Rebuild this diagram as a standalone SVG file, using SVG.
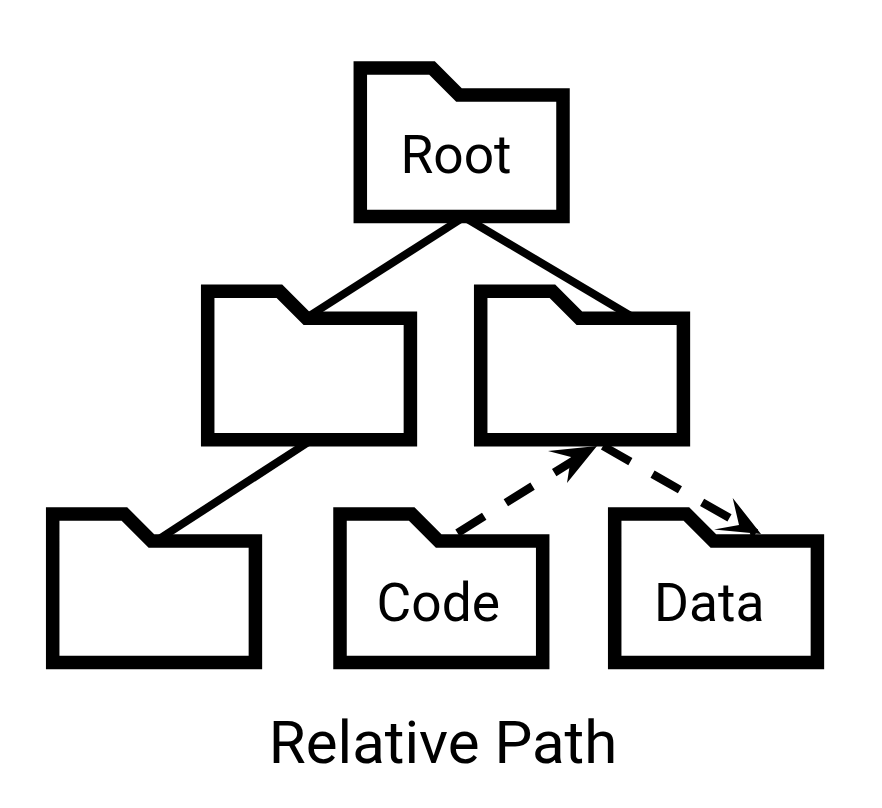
<svg xmlns="http://www.w3.org/2000/svg" width="882" height="808" viewBox="0 0 882 808">
<style>
.folder{fill:#fff;stroke:#000;stroke-width:13.5;stroke-linejoin:miter}
.link{fill:none;stroke:#000;stroke-width:8}
.dash{fill:none;stroke:#000;stroke-width:8.3;stroke-dasharray:31.5 25.5}
.head{fill:#000;stroke:none}
text{font-family:Roboto,"Liberation Sans",sans-serif;fill:#000;text-anchor:middle}
.label{font-size:53.3px}
.title{font-size:60px}
</style>
<defs>
<path id="f" class="folder" d="M0 0H71.7L98.7 27H202.7V148.500H0Z"/>
</defs>
<rect width="882" height="808" fill="#fff"/>
<g id="connectors">
<path class="link" d="M464 217L303 320"/>
<path class="link" d="M464 217L637.500 320"/>
<path class="link" d="M311.600 440L156 541"/>
<path class="dash" d="M457.500 533L592 449"/>
<path class="dash" d="M603 446L756 533"/>
</g>
<g id="root"><use href="#f" x="360.3" y="68"/><text class="label" x="456" y="173.3">Root</text></g>
<g id="folder-left"><use href="#f" x="207.7" y="291.300"/></g>
<g id="folder-right"><use href="#f" x="480.7" y="291.300"/></g>
<g id="folder-bottom"><use href="#f" x="52.7" y="514"/></g>
<g id="code"><use href="#f" x="340" y="514"/><text class="label" x="438.300" y="620.700">Code</text></g>
<g id="data"><use href="#f" x="614.700" y="514"/><text class="label" x="709.200" y="620.700">Data</text></g>
<g id="arrowheads">
<path class="head" d="M597 446L567 483L571 457L548 451Z"/>
<path class="head" d="M761 534L732.700 498L739 525L714 529.500Z"/>
</g>
<text class="title" x="443" y="763.300">Relative Path</text>
</svg>
